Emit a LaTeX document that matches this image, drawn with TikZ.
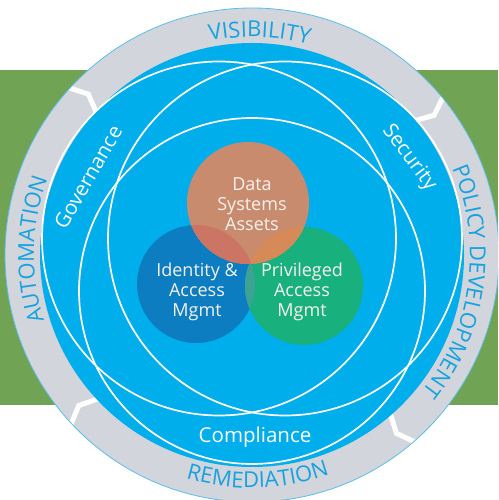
\documentclass[tikz,border=0pt]{standalone}
\usepackage{fontspec}
\setmainfont{Open Sans}
\usetikzlibrary{decorations.text}
\definecolor{bandgreen}{RGB}{112,164,84}
\definecolor{ringgrey}{RGB}{210,213,220}
\definecolor{ringedge}{RGB}{90,190,235}
\definecolor{diskblue}{RGB}{0,174,235}
\definecolor{ringtextblue}{RGB}{20,163,224}
\definecolor{dsorange}{RGB}{201,139,109}
\definecolor{iamblue}{RGB}{11,125,192}
\definecolor{pamgreen}{RGB}{24,176,125}
\definecolor{ovOI}{RGB}{204,117,100}
\definecolor{ovOP}{RGB}{214,138,88}
\definecolor{ovIP}{RGB}{60,163,148}
\definecolor{ovT}{RGB}{200,122,98}
\definecolor{softwhite}{RGB}{246,242,238}
\tikzset{
  whitering/.style={draw=white, line width=1.7pt},
  innertext/.style={text=softwhite, align=center, font=\fontsize{18}{20}\selectfont},
  bluetext/.style={text=white, font=\fontsize{20.5}{22}\selectfont},
  ringtext/.style={decorate, decoration={text along path, text align=center,
      text color=ringtextblue, text={|\fontsize{22}{22}\selectfont|#1}}},
  chevron/.style={draw=white, line width=5pt, line join=miter}
}
\begin{document}
\begin{tikzpicture}[x=1pt,y=1pt]
\useasboundingbox (0,0) rectangle (498,500);
\clip (0,0) rectangle (498,500);
% green band
\fill[bandgreen] (0,95) rectangle (498,430);
\coordinate (O) at (252,245);
% grey ring
\fill[ringgrey] (O) circle[radius=247];
\begin{scope}
  \clip (O) circle[radius=247];
  \foreach \a in {135.5,37.5,-51,221}{
    \draw[chevron] ([shift={(\a+2.5:252)}]O) -- ([shift={(\a:229.5)}]O) -- ([shift={(\a+2.5:207)}]O);
  }
\end{scope}
\draw[ringedge, line width=0.8pt] (O) circle[radius=247];
% blue disk
\fill[diskblue] (O) circle[radius=212];
% white circles
\draw[whitering] (219,261.5) circle[radius=177];
\draw[whitering] (285,261.5) circle[radius=177];
\draw[whitering] (252,209) circle[radius=173];
% coloured circles
\fill[iamblue] (196,216) circle[radius=59];
\fill[pamgreen] (304,214) circle[radius=59];
\begin{scope}
  \clip (196,216) circle[radius=59];
  \fill[ovIP] (304,214) circle[radius=59];
\end{scope}
\fill[dsorange] (248,297) circle[radius=61];
\begin{scope}
  \clip (248,297) circle[radius=61];
  \fill[ovOI] (196,216) circle[radius=59];
  \fill[ovOP] (304,214) circle[radius=59];
  \begin{scope}
    \clip (196,216) circle[radius=59];
    \fill[ovT] (304,214) circle[radius=59];
  \end{scope}
\end{scope}
% texts in circles
\node[innertext] (ds) at (252,296) {Data\\Systems\\Assets};
\node[innertext] (iam) at (197,208) {Identity \&\\Access\\Mgmt};
\node[innertext] (pam) at (302,208) {Privileged\\Access\\Mgmt};
% labels on blue
\node[bluetext, rotate=60] (gov) at (88,323) {Governance};
\node[bluetext, rotate=-53] (sec) at (409,342) {Security};
\node[bluetext] (comp) at (255,63) {Compliance};
% ring texts
\path[ringtext={VISIBILITY}] ([shift={(148:218)}]O) arc[start angle=148, end angle=28, radius=218];
\path[ringtext={POLICY DEVELOPMENT}] ([shift={(82.4:218)}]O) arc[start angle=82.4, end angle=-97.6, radius=218];
\path[ringtext={AUTOMATION}] ([shift={(268.5:218)}]O) arc[start angle=268.5, end angle=88.5, radius=218];
\path[ringtext={REMEDIATION}] ([shift={(211.5:233)}]O) arc[start angle=211.5, end angle=331.5, radius=233];
\end{tikzpicture}
\end{document}
